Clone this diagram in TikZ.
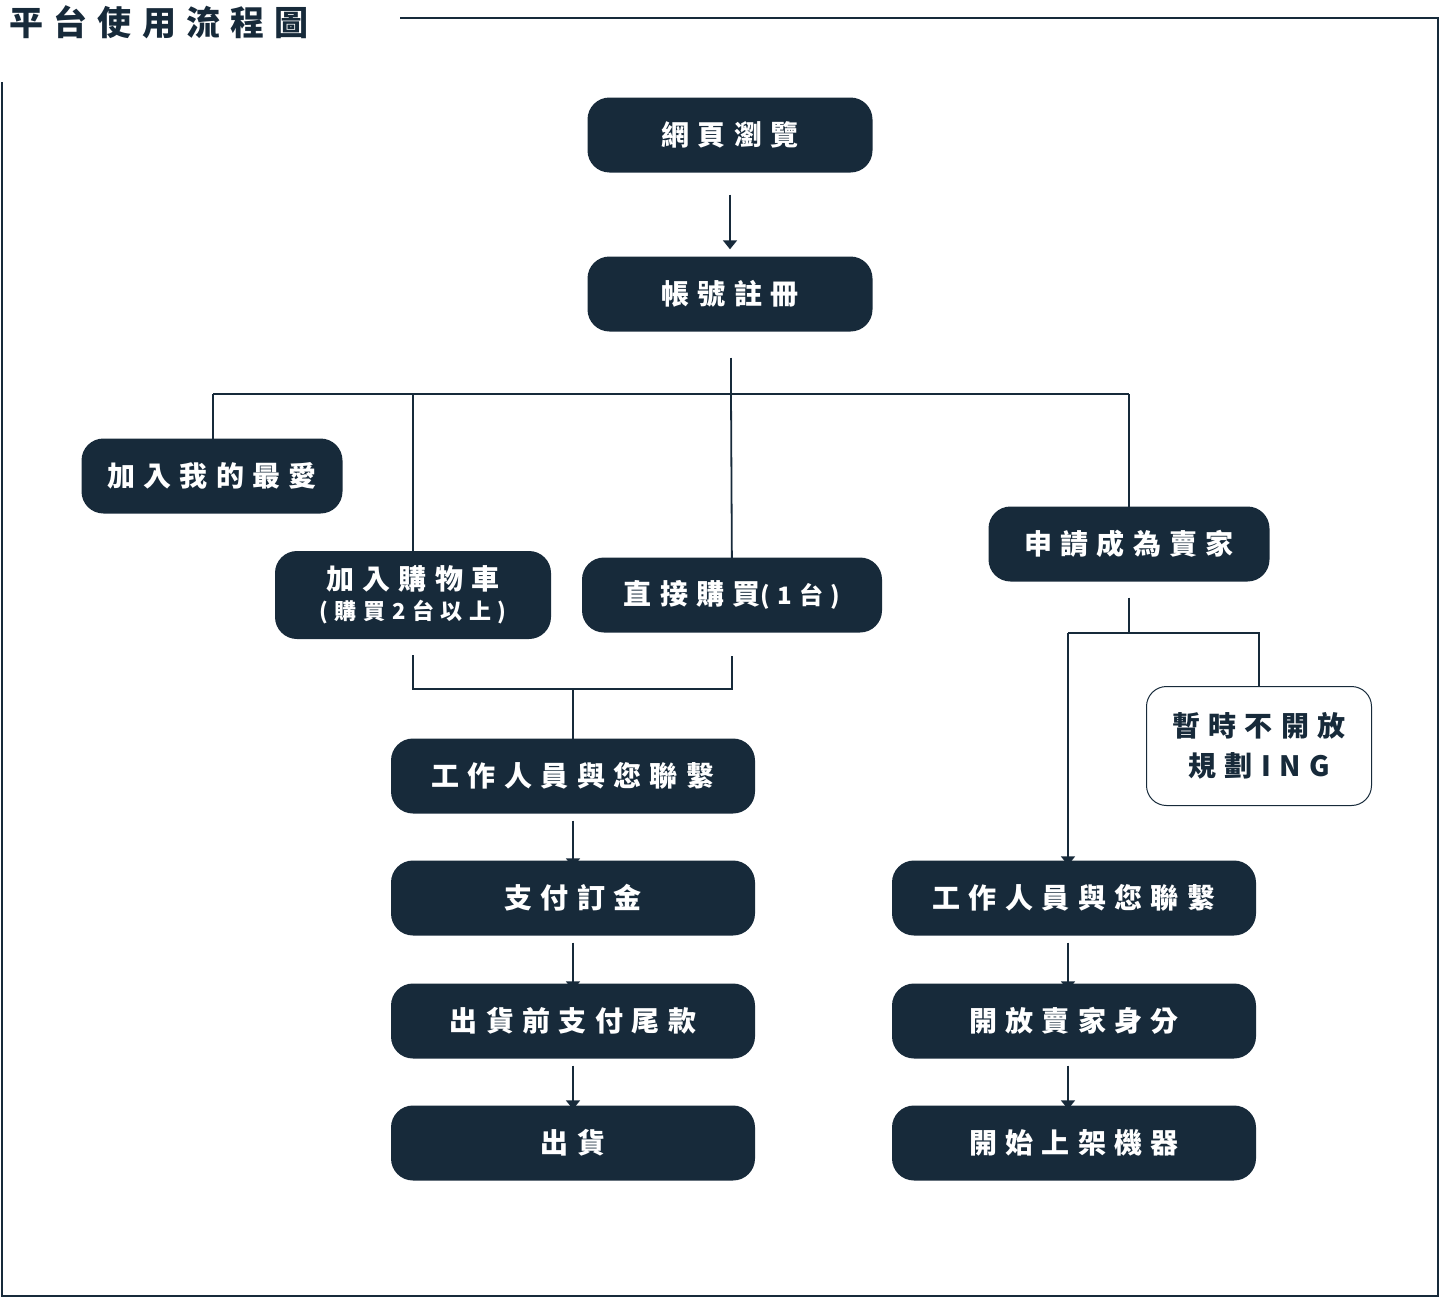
\documentclass[tikz,border=0pt]{standalone}
\usepackage{fontspec}
\newfontfamily\cjk[LetterSpace=30]{Noto Sans CJK TC}
\usetikzlibrary{arrows.meta}
\definecolor{navy}{HTML}{172A3A}
\begin{document}
\begin{tikzpicture}[x=1pt,y=-1pt,
  box/.style={fill=navy,rounded corners=22pt,text=white,font=\cjk\bfseries\fontsize{28}{36}\selectfont,align=center,inner sep=0pt},
  wbox/.style={draw=navy,line width=1pt,fill=white,rounded corners=20pt,text=navy,font=\cjk\bfseries\fontsize{28}{40}\selectfont,align=center,inner sep=0pt},
  ln/.style={draw=navy,line width=1.8pt},
  arr/.style={ln,-{Triangle[width=14pt,length=9pt]}}]
\useasboundingbox (0,0) rectangle (1440,1298);
\draw[navy,line width=1.8pt] (400,18) -- (1438,18) -- (1438,1296) -- (2,1296) -- (2,82);
\node[anchor=west,text=navy,font=\cjk\bfseries\fontsize{34}{40}\selectfont] (title) at (6,22) {平台使用流程圖};
\node[box,minimum width=285pt,minimum height=75pt] (a) at (730,135) {網頁瀏覽};
\node[box,minimum width=285pt,minimum height=75pt] (b) at (730,294) {帳號註冊};
\node[box,minimum width=261pt,minimum height=75pt] (fav) at (212,476) {加入我的最愛};
\node[box,minimum width=276pt,minimum height=88pt] (cart) at (413,595) {加入購物車\\[-6pt]{\fontsize{22}{26}\selectfont(購買2台以上)}};
\node[box,minimum width=300pt,minimum height=75pt] (buy) at (732,595) {直接購買{\fontsize{24}{26}\selectfont(1台)}};
\node[box,minimum width=281pt,minimum height=75pt] (sell) at (1129,544) {申請成為賣家};
\node[wbox,minimum width=225pt,minimum height=119pt] (no) at (1259,746) {暫時不開放\\規劃ING};
\node[box,minimum width=364pt,minimum height=75pt] (l1) at (573,776) {工作人員與您聯繫};
\node[box,minimum width=364pt,minimum height=75pt] (l2) at (573,898) {支付訂金};
\node[box,minimum width=364pt,minimum height=75pt] (l3) at (573,1021) {出貨前支付尾款};
\node[box,minimum width=364pt,minimum height=75pt] (l4) at (573,1143) {出貨};
\node[box,minimum width=364pt,minimum height=75pt] (r1) at (1074,898) {工作人員與您聯繫};
\node[box,minimum width=364pt,minimum height=75pt] (r2) at (1074,1021) {開放賣家身分};
\node[box,minimum width=364pt,minimum height=75pt] (r3) at (1074,1143) {開始上架機器};
% connectors
\draw[arr] ([yshift=-22pt]a.south) -- ([yshift=7pt]b.north);
\coordinate (hb) at (731,394);
\draw[ln] ([xshift=1pt,yshift=-26pt]b.south) -- (hb);
\draw[ln] (213,394) -- (1129,394);
\draw[arr] (213,394) -- ([xshift=1pt,yshift=-15pt]fav.north);
\draw[arr] (413,394) -- ([yshift=-16pt]cart.north);
\draw[arr] (hb) -- ([yshift=-23pt]buy.north);
\draw[arr] (1129,394) -- ([yshift=-24pt]sell.north);
\draw[ln] ([yshift=-16pt]cart.south) -- (413,689) -- (732,689) -- ([yshift=-23pt]buy.south);
\draw[arr] (573,689) -- ([yshift=-14pt]l1.north);
\draw[arr] ([yshift=-7pt]l1.south) -- ([yshift=-7pt]l2.north);
\draw[arr] ([yshift=-7pt]l2.south) -- ([yshift=-7pt]l3.north);
\draw[arr] ([yshift=-7pt]l3.south) -- ([yshift=-4pt]l4.north);
\draw[ln] ([yshift=-16pt]sell.south) -- (1129,633);
\draw[ln] (1068,633) -- (1259,633) -- (no.north);
\draw[arr] (1068,633) -- ([xshift=-6pt,yshift=-5pt]r1.north);
\draw[arr] ([xshift=-6pt,yshift=-7pt]r1.south) -- ([xshift=-6pt,yshift=-7pt]r2.north);
\draw[arr] ([xshift=-6pt,yshift=-7pt]r2.south) -- ([xshift=-6pt,yshift=-4pt]r3.north);
\end{tikzpicture}
\end{document}
